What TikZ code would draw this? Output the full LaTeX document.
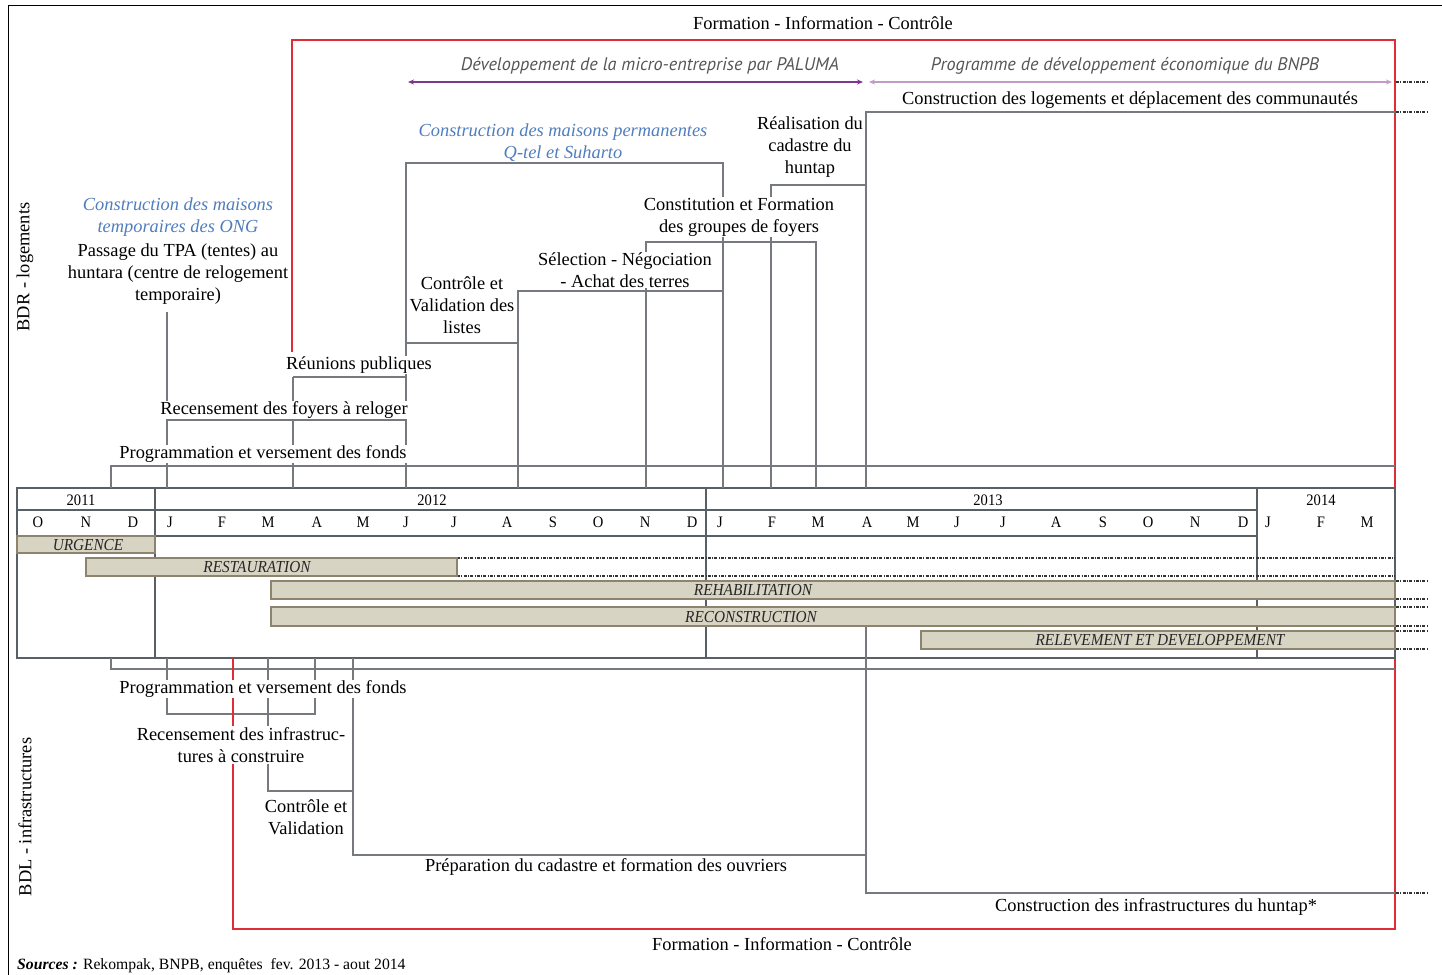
\documentclass[tikz,border=0pt]{standalone}
\usepackage{graphicx}
\usepackage{fontspec}
\setmainfont{Liberation Serif}
\newfontfamily\ptsans{PT Sans}
\usetikzlibrary{arrows.meta}
\definecolor{lgray}{RGB}{118,121,125}
\definecolor{ggray}{RGB}{88,96,102}
\definecolor{rred}{RGB}{222,45,55}
\definecolor{bblue}{RGB}{80,125,190}
\definecolor{dpurp}{RGB}{125,55,140}
\definecolor{lpurp}{RGB}{195,155,200}
\definecolor{barfill}{RGB}{216,212,196}
\definecolor{barline}{RGB}{140,132,110}
\definecolor{stext}{RGB}{85,85,85}
\newcommand\condtxt[1]{\scalebox{0.91}[1]{#1}}
\tikzset{
  ln/.style={lgray, line width=1.4pt},
  gridln/.style={ggray, line width=1.5pt},
  rl/.style={rred, line width=1.4pt},
  dd/.style={black!80, line width=1.1pt, dash pattern=on 3pt off 1.3pt on 1pt off 1.3pt},
  tx/.style={font=\fontsize{18.4}{22}\selectfont, align=center, inner sep=1pt},
  wb/.style={fill=white},
  bt/.style={tx, text=bblue, font=\fontsize{18.4}{22}\selectfont\itshape},
  st/.style={inner sep=1pt, text=stext, font=\ptsans\itshape\fontsize{18.2}{21}\selectfont},
  barbox/.style={draw=barline, fill=barfill, line width=1.2pt},
  bl/.style={inner sep=0pt, font=\fontsize{16.8}{18}\selectfont\itshape, text=black!85},
  mo/.style={inner sep=0pt, font=\fontsize{16}{18}\selectfont},
  ptip/.tip={Stealth[length=6pt,width=5pt]},
}
\begin{document}
\begin{tikzpicture}[x=1pt,y=-1pt]
\useasboundingbox (0,0) rectangle (1442,974);
% outer frame
\draw[black, line width=1pt] (8,980) -- (8,6) -- (1450,6);

% red frame
\draw[rl] (292,352) -- (292,40) -- (1395,40) -- (1395,929) -- (233,929) -- (233,658);

% timeline grid
\draw[gridln] (17,488) rectangle (1395,658);
\draw[gridln] (17,510) -- (1257,510);
\draw[gridln] (17,536) -- (1257,536);
\foreach \x in {155,706,1257} \draw[gridln] (\x,488) -- (\x,658);
\draw[dd] (457,558) -- (1395,558);
\draw[dd] (457,576) -- (1395,576);

% years and months
\node[mo] (y11) at (81,500) {\condtxt{2011}};
\node[mo] (y12) at (432,500) {\condtxt{2012}};
\node[mo] (y13) at (988,500) {\condtxt{2013}};
\node[mo] (y14) at (1321,500) {\condtxt{2014}};
\foreach \x/\m [count=\i] in {38/O,86/N,133/D,170/J,222/F,268/M,317/A,363/M,406/J,454/J,507/A,553/S,598/O,645/N,692/D,720/J,772/F,818/M,867/A,913/M,957/J,1003/J,1056/A,1103/S,1148/O,1195/N,1243/D,1268/J,1321/F,1367/M}
  \node[mo] (mo\i) at (\x,522) {\condtxt{\m}};

% upper connectors
\draw[ln] (111,488) -- (111,466) -- (1395,466);
\draw[ln] (167,312) -- (167,488);
\draw[ln] (167,420) -- (406,420);
\draw[ln] (293,377) -- (293,488);
\draw[ln] (293,377) -- (406,377);
\draw[ln] (406,488) -- (406,163) -- (723,163) -- (723,488);
\draw[ln] (406,343) -- (518,343);
\draw[ln] (518,488) -- (518,291) -- (723,291);
\draw[ln] (646,488) -- (646,242) -- (816,242) -- (816,488);
\draw[ln] (771,488) -- (771,185) -- (866,185);
\draw[ln] (866,488) -- (866,112) -- (1395,112);

% lower connectors
\draw[ln] (111,658) -- (111,669) -- (1395,669);
\draw[ln] (167,658) -- (167,714) -- (315,714) -- (315,658);
\draw[ln] (268,658) -- (268,791) -- (353,791);
\draw[ln] (353,658) -- (353,855) -- (866,855);
\draw[ln] (866,626) -- (866,893) -- (1395,893);
\draw[rl] (233,658) -- (233,765);

% bars
\draw[barbox] (17,536) rectangle (155,553);
\draw[barbox] (86,558) rectangle (457,576);
\draw[barbox] (271,581) rectangle (1395,599);
\draw[barbox] (271,607) rectangle (1395,626);
\draw[barbox] (921,631) rectangle (1395,649);
\node[bl] (urg) at (88,545) {\condtxt{URGENCE}};
\node[bl] (res) at (257,567) {\condtxt{RESTAURATION}};
\node[bl] (reh) at (753,590) {\condtxt{REHABILITATION}};
\node[bl] (rec) at (751,617) {\condtxt{RECONSTRUCTION}};
\node[bl] (rel) at (1160,640) {\condtxt{RELEVEMENT ET DEVELOPPEMENT}};

% dashed continuations on the right
\foreach \y in {82,112,581,599,607,626,631,649,893}
  \draw[dd] (1396,\y) -- (1428,\y);

% purple arrows
\draw[dpurp, line width=2.2pt, {ptip}-{ptip}] (408,82) -- (863,82);
\draw[lpurp, line width=2.2pt, {ptip}-{ptip}] (869,82) -- (1392,82);
\node[st] (pal) at (650,66) {Développement de la micro-entreprise par PALUMA};
\node[st] (bnpb) at (1125,66) {Programme de développement économique du BNPB};

% texts upper
\node[tx] (ftop) at (823,23) {Formation - Information - Contrôle};
\node[tx] (clog) at (1130,100) {Construction des logements et déplacement des communautés};
\node[bt] (cperm) at (563,143) {Construction des maisons permanentes\\Q-tel et Suharto};
\node[tx] (real) at (810,147) {Réalisation du\\cadastre du\\huntap};
\node[tx, wb] (const) at (739,217) {Constitution et Formation\\des groupes de foyers};
\node[bt] (ctemp) at (178,217) {Construction des maisons\\temporaires des ONG};
\node[tx] (pass) at (178,274) {Passage du TPA (tentes) au\\huntara (centre de relogement\\temporaire)};
\node[tx, wb] (sel) at (625,270) {Sélection - Négociation\\- Achat des terres};
\node[tx] (cvl) at (462,305) {Contrôle et\\Validation des\\listes};
\node[tx, wb] (reun) at (359,365) {Réunions publiques};
\node[tx, wb] (recf) at (284,410) {Recensement des foyers à reloger};
\node[tx, wb] (prog1) at (263,454) {Programmation et versement des fonds};

% texts lower
\node[tx, wb] (prog2) at (263,689) {Programmation et versement des fonds};
\node[tx, wb] (reci) at (241,745) {Recensement des infrastruc-\\tures à construire};
\node[tx] (cv) at (306,817) {Contrôle et\\Validation};
\node[tx] (prep) at (606,867) {Préparation du cadastre et formation des ouvriers};
\node[tx] (cinf) at (1156,907) {Construction des infrastructures du huntap*};
\node[tx] (fbot) at (782,944) {Formation - Information - Contrôle};
\node[tx, anchor=west, font=\fontsize{15.7}{18}\selectfont] (src) at (16,966) {\textbf{\textit{Sources :}} Rekompak, BNPB, enquêtes\ \ fev. 2013 - aout 2014};

% side labels
\node[tx, rotate=90] (bdr) at (25,267) {BDR - logements};
\node[tx, rotate=90] (bdl) at (25,817) {BDL - infrastructures};
\end{tikzpicture}
\end{document}
